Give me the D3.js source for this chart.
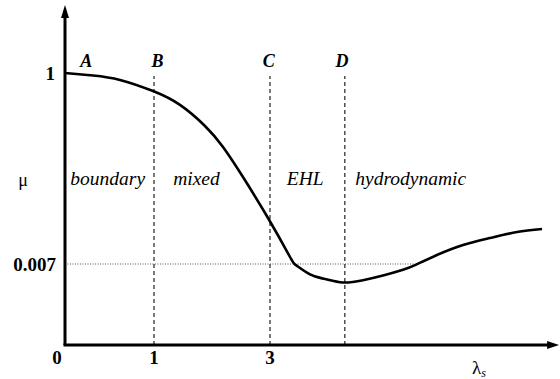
<!DOCTYPE html>
<html>
<head>
<meta charset="utf-8">
<script src="https://cdn.jsdelivr.net/npm/d3@7"></script>
<style>
  body { margin: 0; background: #fff; }
  text { font-family: "Liberation Serif", "Times New Roman", serif; fill: #000; }
  .tick-label { font-weight: bold; font-size: 19px; }
  .point-label { font-weight: bold; font-style: italic; font-size: 18px; }
  .region { font-style: italic; font-size: 19.5px; }
</style>
</head>
<body>
<div id="chart"></div>
<script>
// schematic Stribeck curve: friction coefficient vs lambda_s
var curveX = [0, 0.315, 0.618, 0.989, 1.448, 1.879, 2.19, 2.534, 2.966, 3.345, 3.448, 3.69, 3.948, 4.259,
  4.603, 4.948, 5.293, 5.5, 5.879, 6.328, 6.793, 7.259, 7.69];
var curveMu = [1, 0.987, 0.964, 0.906, 0.834, 0.7245, 0.615, 0.459, 0.246, 0.0434, 0.0069, 0.0061, 0.0057, 0.0054,
  0.0056, 0.006, 0.0065, 0.0069, 0.0538, 0.1058, 0.1422, 0.1734, 0.189];

var xTicks = [0, 1, 3];
var xTickLabels = ['0', '1', '3'];
var yTicks = [1, 0.007];
var yTickLabels = ['1', '0.007'];

var markers = ['A', 'B', 'C', 'D'];
var markerX = [0.24, 1.06, 2.98, 4.24];
var dashedX = [1, 3, 4.29];

var regions = ['boundary', 'mixed', 'EHL', 'hydrodynamic'];
var regionX = [0.06, 1.33, 3.29, 4.47];

var refMu = 0.007, refEnd = 5.5;
var xMax = 7.95;

var width = 560, height = 379;

// piecewise scales, the drawing is schematic (not to scale)
var x = d3.scaleLinear().domain([0, 1, 3]).range([65, 154, 270]);
var y = d3.scaleLinear().domain([0, 0.007, 1]).range([345, 264, 73]);

var svg = d3.select('#chart').append('svg')
  .attr('width', width)
  .attr('height', height);

var line = d3.line()
  .x(function(d) { return x(d[0]); })
  .y(function(d) { return y(d[1]); });

// dotted reference line at 0.007
svg.append('path')
  .datum([[0, refMu], [refEnd, refMu]])
  .attr('d', line)
  .attr('fill', 'none')
  .attr('stroke', '#555')
  .attr('stroke-width', 1)
  .attr('stroke-dasharray', '1,1.5');

// dashed regime boundaries
dashedX.forEach(function(v) {
  svg.append('path')
    .datum([[v, 0], [v, 0.985]])
    .attr('d', line)
    .attr('fill', 'none')
    .attr('stroke', '#333')
    .attr('stroke-width', 1.3)
    .attr('stroke-dasharray', '4,3');
});

// main curve
var curveLine = d3.line()
  .x(function(d) { return x(d[0]); })
  .y(function(d) { return y(d[1]); })
  .curve(d3.curveNatural);

svg.append('path')
  .datum(d3.zip(curveX, curveMu))
  .attr('d', curveLine)
  .attr('fill', 'none')
  .attr('stroke', '#000')
  .attr('stroke-width', 2.6);

// axes
svg.append('line')
  .attr('x1', x(0)).attr('y1', y(0))
  .attr('x2', x(0)).attr('y2', 16)
  .attr('stroke', '#000').attr('stroke-width', 3);
svg.append('path')
  .attr('d', 'M' + x(0) + ',5 L' + (x(0) - 4) + ',18 L' + (x(0) + 4) + ',18 Z');

svg.append('line')
  .attr('x1', x(0) - 1.5).attr('y1', y(0))
  .attr('x2', x(xMax) - 8).attr('y2', y(0))
  .attr('stroke', '#000').attr('stroke-width', 3);
svg.append('path')
  .attr('d', 'M' + (x(xMax) + 2) + ',' + y(0) + ' L' + (x(xMax) - 10) + ',' + (y(0) - 4) +
    ' L' + (x(xMax) - 10) + ',' + (y(0) + 4) + ' Z');

// tick labels
svg.selectAll('.xt').data(xTicks).enter().append('text')
  .attr('class', 'tick-label')
  .attr('x', function(d) { return d === 0 ? x(d) - 8 : x(d); })
  .attr('y', 364)
  .attr('text-anchor', 'middle')
  .text(function(d, i) { return xTickLabels[i]; });

svg.selectAll('.yt').data(yTicks).enter().append('text')
  .attr('class', 'tick-label')
  .attr('x', function(d) { return d === 1 ? 55 : 56; })
  .attr('y', function(d) { return y(d) + 7; })
  .attr('text-anchor', 'end')
  .text(function(d, i) { return yTickLabels[i]; });

// point labels A-D
svg.selectAll('.pl').data(markers).enter().append('text')
  .attr('class', 'point-label')
  .attr('x', function(d, i) { return x(markerX[i]); })
  .attr('y', 67)
  .attr('text-anchor', 'middle')
  .text(function(d) { return d; });

// regime names
svg.selectAll('.rg').data(regions).enter().append('text')
  .attr('class', 'region')
  .attr('x', function(d, i) { return x(regionX[i]); })
  .attr('y', 185)
  .text(function(d) { return d; });

// axis titles
svg.append('text')
  .attr('x', 23).attr('y', 186)
  .attr('text-anchor', 'middle')
  .style('font-size', '18px')
  .text('\u03bc');

var lam = svg.append('text')
  .attr('x', 472).attr('y', 374)
  .style('font-size', '19px');
lam.append('tspan').text('\u03bb');
lam.append('tspan')
  .attr('dy', 3)
  .style('font-size', '12px')
  .style('font-style', 'italic')
  .text('s');
</script>
</body>
</html>
